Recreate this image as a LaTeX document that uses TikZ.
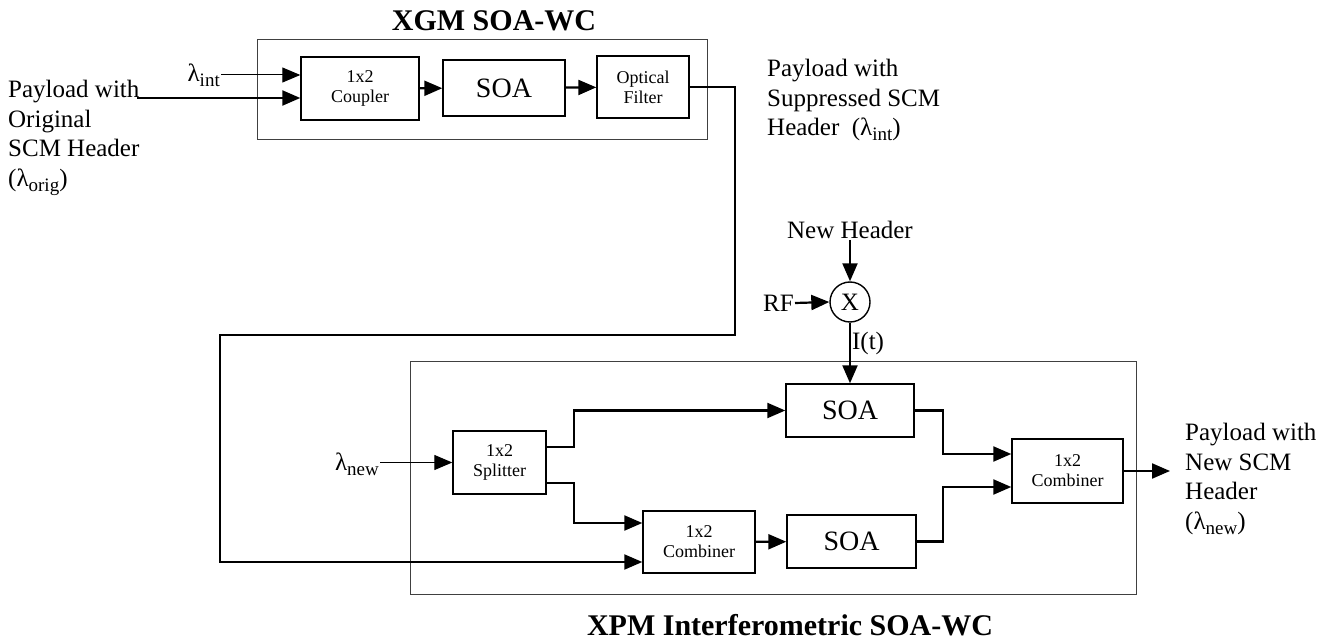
\documentclass[tikz,border=0pt]{standalone}
\usepackage{fontspec}
\setmainfont{Liberation Serif}
\usetikzlibrary{arrows.meta,positioning}
\tikzset{
  blk/.style={draw,line width=1.4pt,inner sep=2pt,align=center},
  frame/.style={draw,line width=1pt,black!75},
  sig/.style={line width=2.2pt,-{Triangle[length=18pt,width=15pt]}},
  small/.style={font=\fontsize{18}{20}\selectfont},
  big/.style={font=\fontsize{25}{29.5}\selectfont,inner sep=1pt},
  soafont/.style={font=\fontsize{28}{30}\selectfont},
  title/.style={font=\fontsize{30}{34}\selectfont\bfseries,inner sep=0pt}
}
\newcommand{\lam}[1]{λ\raisebox{-5pt}{\fontsize{19}{20}\selectfont #1}}
\begin{document}
\begin{tikzpicture}[x=1pt,y=-1pt]
\useasboundingbox (0,0) rectangle (1339,644);
\node[frame,minimum width=450pt,minimum height=100pt] (xgm) at (482,90) {};
\node[title] (xgmt) at (494,21) {XGM SOA-WC};
\node[blk,small,minimum width=118pt,minimum height=63pt] (coupler) at (360,88.5) {1x2\\Coupler};
\node[blk,soafont,minimum width=122pt,minimum height=56pt] (soa1) at (504,88) {SOA};
\node[blk,small,minimum width=92pt,minimum height=62pt] (filter) at (643,87) {Optical\\Filter};
\draw[sig] (coupler) -- (soa1);
\draw[sig] (soa1) -- (filter);
\node[big,anchor=north west,align=left,inner sep=0pt] (pin) at (8,80) {Payload with\\Original\\SCM Header\\(\lam{orig})};
\node[big,anchor=east] (lint) at (221,75) {\lam{int}};
\coordinate (cpin1) at ([yshift=13.5pt]coupler.west);
\coordinate (cpin2) at ([yshift=-9.5pt]coupler.west);
\coordinate (pinend) at (137,98);
\draw[sig,line width=1pt] (cpin1 -| lint.east) -- (cpin1);
\draw[sig] (pinend) -- (cpin2);
\node[big,anchor=north west,align=left,inner sep=0pt] (psup) at (767,59) {Payload with\\Suppressed SCM\\Header\ \ (\lam{int})};
\node[frame,minimum width=726pt,minimum height=232pt] (xpm) at (773,478) {};
\node[title] (xpmt) at (790,625) {XPM Interferometric SOA-WC};
\node[blk,small,minimum width=93pt,minimum height=63pt] (split) at (499.5,462.5) {1x2\\Splitter};
\node[blk,soafont,minimum width=128pt,minimum height=53pt] (soa2) at (850,410.5) {SOA};
\node[blk,small,minimum width=112pt,minimum height=62pt] (combA) at (699,542) {1x2\\Combiner};
\node[blk,soafont,minimum width=129pt,minimum height=53pt] (soa3) at (851.5,541.5) {SOA};
\node[blk,small,minimum width=111pt,minimum height=64pt] (combB) at (1067.5,471) {1x2\\Combiner};
\node[big,anchor=east] (lnew) at (380,464) {\lam{new}};
\draw[sig,line width=1.3pt] (lnew.east |- split.west) -- (split.west);
\draw[sig] ([yshift=15.5pt]split.east) -- ++(27,0) |- (soa2.west);
\draw[sig] ([yshift=-20.5pt]split.east) -- ++(27,0) |- ([yshift=19pt]combA.west);
\draw[sig] (combA) -- (soa3);
\draw[sig] (soa2.east) -- ++(28,0) |- ([yshift=17pt]combB.west);
\draw[sig] (soa3.east) -- ++(26,0) |- ([yshift=-16pt]combB.west);
\coordinate (outend) at (1170,471);
\draw[sig] (combB.east) -- (outend);
\node[big,anchor=north west,align=left,inner sep=0pt] (pnew) at (1185,423) {\fontsize{25}{32}\selectfont Payload with\\New SCM\\Header\\(\lam{new})};
\coordinate (turnA) at (735,335);
\coordinate (turnB) at (220,335);
\draw[sig,line width=2pt] (filter.east) -| (turnA) -- (turnB) |- ([yshift=-20pt]combA.west);
\node[circle,draw,line width=1.4pt,minimum size=40pt,inner sep=0pt,font=\fontsize{25}{28}\selectfont] (mix) at (850,302) {X};
\node[big] (nh) at (850,230) {New Header};
\node[big,anchor=east] (rf) at (795,303) {RF};
\draw[sig] (nh.south) -- (mix.north);
\draw[sig] (rf.east) -- (mix.west);
\draw[sig] (mix.south) -- node[big,right,pos=0.34] (it) {I(t)} (soa2.north);
\end{tikzpicture}
\end{document}
